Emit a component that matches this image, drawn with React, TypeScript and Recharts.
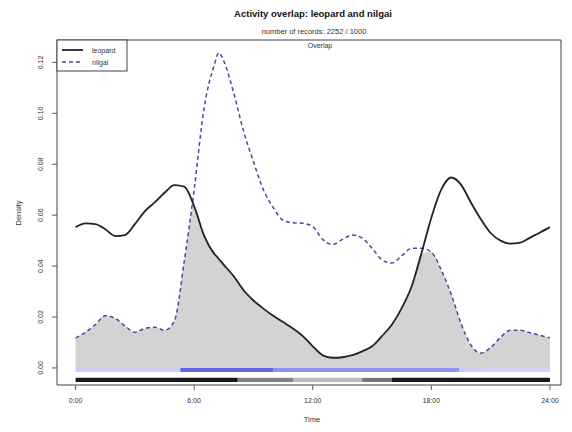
import React from 'react';
import {
  ComposedChart,
  Area,
  Line,
  XAxis,
  YAxis,
  ReferenceArea,
} from 'recharts';

// Kernel density of activity by time of day
const hours = [
  0, 0.5, 1, 1.5, 2, 2.5, 3, 3.5, 4, 4.5, 5, 5.5, 6, 6.5, 7, 7.25, 7.5, 8, 8.5, 9, 9.5,
  10, 10.5, 11, 11.5, 12, 12.5, 13, 13.5, 14, 14.5, 15, 15.5, 16, 16.5, 17, 17.5,
  18, 18.5, 19, 19.5, 20, 20.5, 21, 21.5, 22, 22.5, 23, 23.5, 24,
];

const leopard = [
  0.0553, 0.0568, 0.0565, 0.0545, 0.0518, 0.0522, 0.0565, 0.0615, 0.065, 0.0688,
  0.0718, 0.0712, 0.0635, 0.052, 0.045, 0.0428, 0.0405, 0.036, 0.0305, 0.0265, 0.0233,
  0.0205, 0.018, 0.0155, 0.0125, 0.0085, 0.005, 0.004, 0.0042, 0.005, 0.0065,
  0.0085, 0.0125, 0.017, 0.0235, 0.032, 0.045, 0.059, 0.07, 0.0748, 0.072,
  0.065, 0.0585, 0.053, 0.05, 0.0488, 0.0492, 0.0512, 0.0532, 0.0553,
];

const nilgai = [
  0.0118, 0.014, 0.017, 0.0205, 0.0195, 0.0165, 0.014, 0.0155, 0.016, 0.0148,
  0.0185, 0.042, 0.07, 0.102, 0.1185, 0.1238, 0.1205, 0.108, 0.093, 0.081, 0.07,
  0.063, 0.058, 0.057, 0.0568, 0.0555, 0.0505, 0.0485, 0.0505, 0.0522, 0.051,
  0.047, 0.0425, 0.0412, 0.044, 0.047, 0.047, 0.0455, 0.0385, 0.029, 0.0175,
  0.009, 0.0058, 0.008, 0.012, 0.0148, 0.0148, 0.0138, 0.0128, 0.0118,
];

// Rug of record times, summarised as bands of tick density
const leopardRug = [
  { from: 0, to: 8.2, density: 1 },
  { from: 8.2, to: 11, density: 0.55 },
  { from: 11, to: 14.5, density: 0.3 },
  { from: 14.5, to: 16, density: 0.6 },
  { from: 16, to: 24, density: 1 },
];

const nilgaiRug = [
  { from: 0, to: 5.3, density: 0.3 },
  { from: 5.3, to: 10, density: 0.9 },
  { from: 10, to: 19.4, density: 0.65 },
  { from: 19.4, to: 20.5, density: 0.3 },
  { from: 20.5, to: 24, density: 0.25 },
];

const xTicks = [0, 6, 12, 18, 24];
const yTicks = [0, 0.02, 0.04, 0.06, 0.08, 0.1, 0.12];

const X_DOMAIN: [number, number] = [-0.94, 24.56];
const Y_DOMAIN: [number, number] = [-0.0067, 0.1288];

const rows = hours.map((h, i) => ({
  hour: h,
  leopard: leopard[i],
  nilgai: nilgai[i],
  overlap: Math.min(leopard[i], nilgai[i]),
}));

const FONT = '"Liberation Sans", Arial, sans-serif';

const YTick = (props: any) => {
  const { y, payload } = props;
  return (
    <text
      x={43}
      y={y}
      transform={`rotate(-90 43 ${y})`}
      textAnchor="middle"
      fontSize={7}
      fontFamily={FONT}
      fill="#333"
    >
      {payload.value.toFixed(2)}
    </text>
  );
};

const XTick = (props: any) => {
  const { x, payload } = props;
  return (
    <text x={x} y={403} textAnchor="middle" fontSize={7} fontFamily={FONT} fill="#333">
      {`${payload.value}:00`}
    </text>
  );
};

export default function App() {
  return (
    <div style={{ position: 'absolute', left: 0, top: 0, width: 572, height: 432, background: '#fff' }}>
      <ComposedChart
        width={572}
        height={432}
        data={rows}
        margin={{ top: 40, right: 11, bottom: 0, left: 0 }}
      >
        <XAxis
          dataKey="hour"
          type="number"
          domain={X_DOMAIN}
          ticks={xTicks}
          allowDataOverflow
          height={47}
          axisLine={false}
          tickLine={{ stroke: '#555' }}
          tickSize={5}
          tick={<XTick />}
        />
        <YAxis
          type="number"
          domain={Y_DOMAIN}
          ticks={yTicks}
          allowDataOverflow
          width={57}
          axisLine={false}
          tickLine={{ stroke: '#555' }}
          tickSize={5}
          tick={<YTick />}
        />
        <Area
          type="monotone"
          dataKey="overlap"
          baseValue={0}
          stroke="none"
          fill="#d3d3d3"
          fillOpacity={1}
          isAnimationActive={false}
        />
        {nilgaiRug.map((b, i) => (
          <ReferenceArea
            key={`n-${i}`}
            x1={b.from}
            x2={b.to}
            y1={-0.0016}
            y2={0}
            fill="#2a2ae0"
            fillOpacity={b.density * 0.8}
            stroke="none"
          />
        ))}
        {leopardRug.map((b, i) => (
          <ReferenceArea
            key={`l-${i}`}
            x1={b.from}
            x2={b.to}
            y1={-0.0055}
            y2={-0.0039}
            fill="#000"
            fillOpacity={b.density * 0.9}
            stroke="none"
          />
        ))}
        <Line
          type="monotone"
          dataKey="nilgai"
          stroke="#4a4a9a"
          strokeWidth={1.5}
          strokeDasharray="4 3"
          dot={false}
          isAnimationActive={false}
        />
        <Line
          type="monotone"
          dataKey="leopard"
          stroke="#222"
          strokeWidth={1.8}
          dot={false}
          isAnimationActive={false}
        />
        <ReferenceArea
          x1={X_DOMAIN[0]}
          x2={X_DOMAIN[1]}
          y1={Y_DOMAIN[0]}
          y2={Y_DOMAIN[1]}
          fill="none"
          stroke="#444"
          strokeWidth={1}
        />
      </ComposedChart>

      <svg
        width={572}
        height={432}
        style={{ position: 'absolute', left: 0, top: 0, pointerEvents: 'none' }}
        fontFamily={FONT}
      >
        <text x={313} y={17} textAnchor="middle" fontSize={9.5} fontWeight="bold" fill="#111">
          Activity overlap: leopard and nilgai
        </text>
        <text x={314} y={34} textAnchor="middle" fontSize={7.5} fill="#333">
          number of records: 2252 / 1000
        </text>
        <text x={320} y={48} textAnchor="middle" fontSize={7} fill="#333">
          Overlap
        </text>
        <text x={312} y={422} textAnchor="middle" fontSize={7.5} fill="#333">
          Time
        </text>
        <text
          x={21}
          y={213}
          transform="rotate(-90 21 213)"
          textAnchor="middle"
          fontSize={7.5}
          fill="#333"
        >
          Density
        </text>

        {/* legend */}
        <rect x={57} y={40} width={70} height={31} fill="#fff" stroke="#444" strokeWidth={1} />
        <line x1={62} y1={50} x2={83} y2={50} stroke="#222" strokeWidth={1.8} />
        <line x1={62} y1={62} x2={83} y2={62} stroke="#4a4a9a" strokeWidth={1.5} strokeDasharray="4 3" />
        <text x={92} y={52.5} fontSize={7} fill="#333">leopard</text>
        <text x={92} y={64.5} fontSize={7} fill="#333">nilgai</text>
      </svg>
    </div>
  );
}
